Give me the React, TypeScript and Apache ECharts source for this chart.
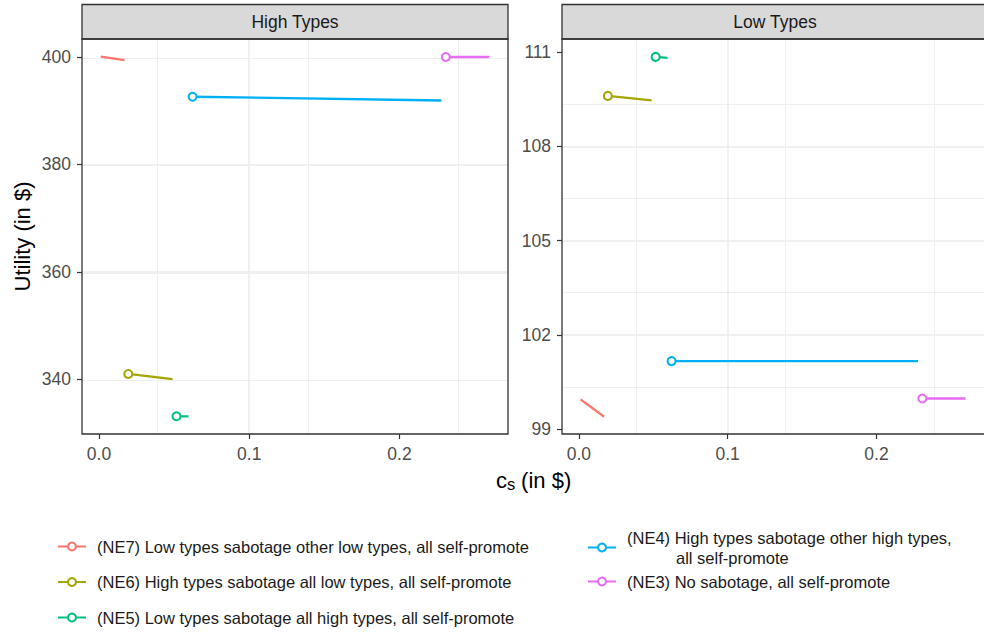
import React, { useEffect, useRef } from "react";
import * as echarts from "echarts";

const FONT = "'Liberation Sans', Arial, Helvetica, sans-serif";

const panelNames = ["High Types", "Low Types"];
const seriesNames = [
  "(NE7) Low types sabotage other low types, all self-promote",
  "(NE6) High types sabotage all low types, all self-promote",
  "(NE5) Low types sabotage all high types, all self-promote",
  "(NE4) High types sabotage other high types, all self-promote",
  "(NE3) No sabotage, all self-promote",
];
const colors = ["#F8766D", "#A3A500", "#00BF7D", "#00B0F6", "#E76BF3"];

// c_s at start / end of each segment
const csStart = [0.0012, 0.0195, 0.0516, 0.0623, 0.2308];
const csEnd = [0.017, 0.0489, 0.0596, 0.2279, 0.2598];
// Utility, High Types panel
const highStart = [400.05, 340.98, 333.1, 392.6, 400.0];
const highEnd = [399.4, 340.0, 333.1, 391.9, 400.0];
// Utility, Low Types panel
const lowStart = [99.95, 109.61, 110.85, 101.17, 99.98];
const lowEnd = [99.4, 109.47, 110.82, 101.17, 99.98];
// whether the start point is marked
const startMarked = [false, true, true, true, true];

const xTicks = [0, 0.1, 0.2];
const highTicks = [340, 360, 380, 400];
const lowTicks = [99, 102, 105, 108, 111];

const GRID_TOP = 39;
const GRID_H = 395;
const GRID_W = 426;
const LEFTS = [82, 562];

export default function App() {
  const ref = useRef<HTMLDivElement>(null);

  useEffect(() => {
    if (!ref.current) return;
    const chart = echarts.init(ref.current, null, { renderer: "svg" });

    const xAxis = (gridIndex: number) => ({
      type: "value",
      gridIndex,
      min: -0.0113,
      max: 0.2722,
      interval: 0.1,
      axisLine: { show: false, onZero: false },
      axisTick: {
        show: true,
        length: 5,
        lineStyle: { color: "#333333", width: 1.2 },
        customValues: xTicks,
      },
      axisLabel: {
        customValues: xTicks,
        formatter: (v: number) => v.toFixed(1),
        color: "#4D4D4D",
        fontSize: 17.5,
        fontFamily: FONT,
        margin: 11,
      },
      splitLine: { show: true, showMinLine: false, showMaxLine: false, lineStyle: { color: "#EBEBEB", width: 1.5 } },
      minorTick: { show: false, splitNumber: 2 },
      minorSplitLine: { show: true, lineStyle: { color: "#EFEFEF", width: 1 } },
    });

    const yAxis = (gridIndex: number, min: number, max: number, interval: number, ticks: number[]) => ({
      type: "value",
      gridIndex,
      min,
      max,
      interval,
      axisLine: { show: false, onZero: false },
      axisTick: {
        show: true,
        length: 5,
        lineStyle: { color: "#333333", width: 1.2 },
        customValues: ticks,
      },
      axisLabel: {
        customValues: ticks,
        color: "#4D4D4D",
        fontSize: 17.5,
        fontFamily: FONT,
        margin: 11,
      },
      splitLine: { show: true, showMinLine: false, showMaxLine: false, lineStyle: { color: "#EBEBEB", width: 1.5 } },
      minorTick: { show: false, splitNumber: 2 },
      minorSplitLine: { show: true, lineStyle: { color: "#EFEFEF", width: 1 } },
    });

    const series: any[] = [];
    [highStart, lowStart].forEach((startArr, p) => {
      const endArr = p === 0 ? highEnd : lowEnd;
      seriesNames.forEach((name, i) => {
        series.push({
          type: "line",
          name,
          xAxisIndex: p,
          yAxisIndex: p,
          symbol: "emptyCircle",
          symbolSize: 8,
          showSymbol: true,
          color: colors[i],
          lineStyle: { width: 2.3, color: colors[i] },
          itemStyle: { color: colors[i], borderWidth: 1.5 },
          emphasis: { disabled: true },
          data: [
            { value: [csStart[i], startArr[i]], symbol: startMarked[i] ? "emptyCircle" : "none" },
            { value: [csEnd[i], endArr[i]], symbol: "none" },
          ],
        });
      });
    });

    const legendText = (name: string) => {
      if (name.startsWith("(NE4)")) {
        return "{t|(NE4) High types sabotage other high types,}\n{u|all self-promote}";
      }
      return "{t|" + name + "}";
    };
    const LFS = 16.5;
    const legendTextStyle = {
      fontSize: LFS,
      fontFamily: FONT,
      color: "#1A1A1A",
      rich: {
        t: { fontSize: LFS, fontFamily: FONT, color: "#1A1A1A", lineHeight: 20, padding: [0, 0, 0, 6] },
        u: { fontSize: LFS, fontFamily: FONT, color: "#1A1A1A", lineHeight: 20, padding: [0, 0, 0, 55] },
      },
    };

    const graphics: any[] = [];
    panelNames.forEach((pn, p) => {
      graphics.push({
        type: "rect",
        z: 100,
        shape: { x: LEFTS[p], y: 4.5, width: GRID_W, height: GRID_TOP - 4.5 },
        style: { fill: "#D9D9D9", stroke: "#333333", lineWidth: 1.3 },
      });
      graphics.push({
        type: "text",
        z: 101,
        x: LEFTS[p] + GRID_W / 2,
        y: (4.5 + GRID_TOP) / 2,
        style: { text: pn, fontSize: 17.5, fontFamily: FONT, fill: "#1A1A1A", align: "center", verticalAlign: "middle" },
      });
      graphics.push({
        type: "rect",
        z: 100,
        shape: { x: LEFTS[p], y: GRID_TOP, width: GRID_W, height: GRID_H },
        style: { fill: "none", stroke: "#333333", lineWidth: 1.3 },
      });
    });
    graphics.push({
      type: "text",
      x: 22,
      y: GRID_TOP + GRID_H / 2,
      rotation: Math.PI / 2,
      style: { text: "Utility (in $)", fontSize: 22, fontFamily: FONT, fill: "#000000", align: "center", verticalAlign: "middle" },
    });
    graphics.push({
      type: "text",
      x: 496,
      y: 480,
      style: { text: "c", fontSize: 22, fontFamily: FONT, fill: "#000000", align: "left", verticalAlign: "middle" },
    });
    graphics.push({
      type: "text",
      x: 507,
      y: 484,
      style: { text: "s", fontSize: 16.5, fontFamily: FONT, fill: "#000000", align: "left", verticalAlign: "middle" },
    });
    graphics.push({
      type: "text",
      x: 515,
      y: 480,
      style: { text: " (in $)", fontSize: 22, fontFamily: FONT, fill: "#000000", align: "left", verticalAlign: "middle" },
    });

    chart.setOption({
      animation: false,
      textStyle: { fontFamily: FONT },
      grid: LEFTS.map((l) => ({
        left: l,
        top: GRID_TOP,
        width: GRID_W,
        height: GRID_H,
        show: false,
      })),
      xAxis: [xAxis(0), xAxis(1)],
      yAxis: [
        yAxis(0, 329.8, 403.35, 20, highTicks),
        yAxis(1, 98.85, 111.42, 3, lowTicks),
      ],
      legend: [
        {
          data: seriesNames.slice(0, 3),
          orient: "vertical",
          left: 52,
          top: 533,
          itemWidth: 28,
          itemHeight: 10,
          itemGap: 18.5,
          selectedMode: false,
          formatter: legendText,
          textStyle: legendTextStyle,
        },
        {
          data: seriesNames.slice(3),
          orient: "vertical",
          left: 582,
          top: 524,
          itemWidth: 28,
          itemHeight: 10,
          itemGap: 7,
          selectedMode: false,
          formatter: legendText,
          textStyle: legendTextStyle,
        },
      ],
      graphic: graphics,
      series,
    });

    return () => chart.dispose();
  }, []);

  return (
    <div
      ref={ref}
      style={{ position: "fixed", left: 0, top: 0, width: 984, height: 634, background: "#ffffff" }}
    />
  );
}
